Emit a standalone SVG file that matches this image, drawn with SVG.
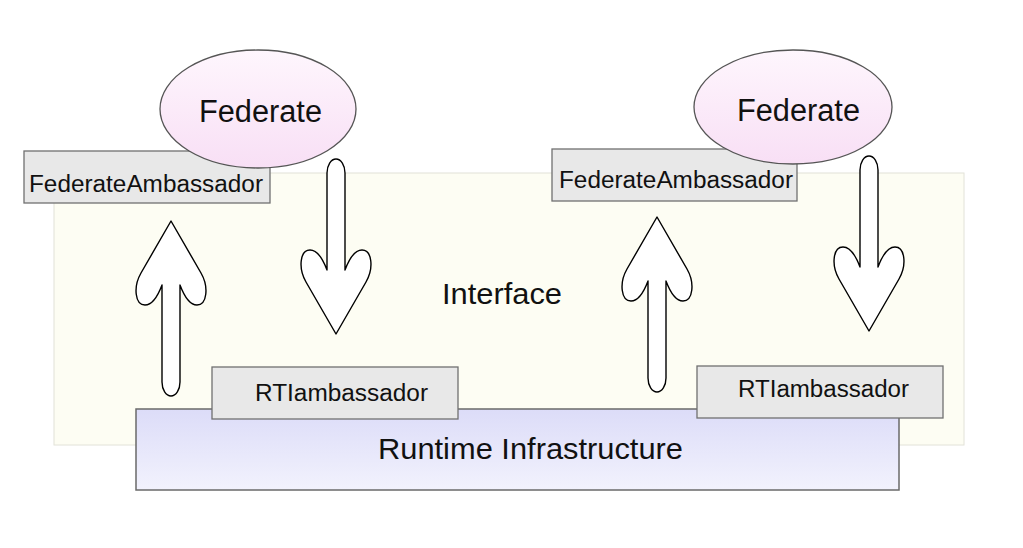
<svg xmlns="http://www.w3.org/2000/svg" xmlns:xlink="http://www.w3.org/1999/xlink" width="1023" height="548" viewBox="0 0 1023 548">
<style>
  .lbl { font-family: "Liberation Sans", Arial, sans-serif; fill: #111; }
  .amb { fill: #e8e8e8; stroke: #707070; stroke-width: 1.3; }
  .fed { fill: url(#fedGrad); stroke: #555; stroke-width: 1.3; }
  .arrow { fill: #ffffff; stroke: #000; stroke-width: 1.4; stroke-linejoin: round; }
</style>
<defs>
  <linearGradient id="fedGrad" x1="0" y1="0" x2="0" y2="1">
    <stop offset="0" stop-color="#fef6fd"/>
    <stop offset="1" stop-color="#f8dff5"/>
  </linearGradient>
  <linearGradient id="rtiGrad" x1="0" y1="0" x2="0" y2="1">
    <stop offset="0" stop-color="#dcdcf8"/>
    <stop offset="1" stop-color="#f2f2fd"/>
  </linearGradient>
  <path id="bigArrow" d="M0,0 L-30,52 C-38,66 -36,84 -26,84 C-18,84 -12,72 -9,64 L-9,161 A9,14 0 0 0 9,161 L9,64 C12,72 18,84 26,84 C36,84 38,66 30,52 Z"/>
</defs>
<rect width="1023" height="548" fill="#ffffff"/>

<g id="interface">
  <rect x="54" y="173" width="910" height="272" fill="#fdfdf3" stroke="#e2e2d8" stroke-width="1"/>
  <text class="lbl" x="442" y="304" font-size="29" textLength="120" lengthAdjust="spacingAndGlyphs">Interface</text>
</g>

<g id="runtime-infrastructure">
  <rect x="136" y="409" width="763" height="81" fill="url(#rtiGrad)" stroke="#6a6a6a" stroke-width="1.5"/>
  <text class="lbl" x="378" y="459" font-size="30" textLength="305" lengthAdjust="spacingAndGlyphs">Runtime Infrastructure</text>
</g>

<g id="rti-ambassador-left">
  <rect class="amb" x="212" y="367" width="246" height="52"/>
  <text class="lbl" x="255" y="401" font-size="23" textLength="173" lengthAdjust="spacingAndGlyphs">RTIambassador</text>
</g>

<g id="rti-ambassador-right">
  <rect class="amb" x="697" y="366" width="246" height="52"/>
  <text class="lbl" x="738" y="397" font-size="23" textLength="171" lengthAdjust="spacingAndGlyphs">RTIambassador</text>
</g>

<g id="federate-ambassador-left">
  <rect class="amb" x="24" y="151" width="246" height="52"/>
  <text class="lbl" x="29" y="192" font-size="23" textLength="234" lengthAdjust="spacingAndGlyphs">FederateAmbassador</text>
</g>

<g id="federate-ambassador-right">
  <rect class="amb" x="552" y="149" width="245" height="52"/>
  <text class="lbl" x="559" y="188" font-size="23" textLength="234" lengthAdjust="spacingAndGlyphs">FederateAmbassador</text>
</g>

<g id="federate-left">
  <ellipse class="fed" cx="258" cy="109" rx="98" ry="59"/>
  <text class="lbl" x="199" y="122" font-size="31" textLength="123" lengthAdjust="spacingAndGlyphs">Federate</text>
</g>

<g id="federate-right">
  <ellipse class="fed" cx="793" cy="107" rx="99" ry="57"/>
  <text class="lbl" x="737" y="121" font-size="31" textLength="123" lengthAdjust="spacingAndGlyphs">Federate</text>
</g>

<g id="connectors">
  <use xlink:href="#bigArrow" href="#bigArrow" class="arrow" transform="translate(171,221)"/>
  <use xlink:href="#bigArrow" href="#bigArrow" class="arrow" transform="translate(336,334) rotate(180)"/>
  <use xlink:href="#bigArrow" href="#bigArrow" class="arrow" transform="translate(657,217)"/>
  <use xlink:href="#bigArrow" href="#bigArrow" class="arrow" transform="translate(869,331) rotate(180)"/>
</g>
</svg>
